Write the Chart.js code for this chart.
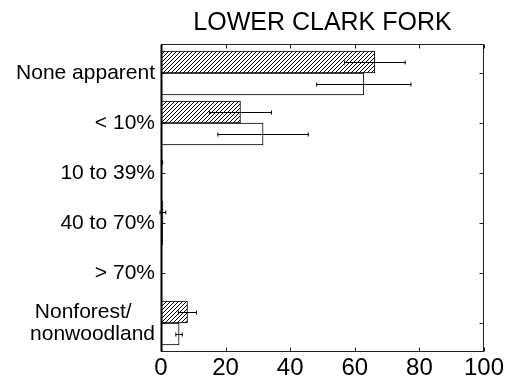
<!DOCTYPE html>
<html>
<head>
<meta charset="utf-8">
<script src="https://cdn.jsdelivr.net/npm/chart.js@4"></script>
<style>
  body { margin: 0; background: #fff; }
</style>
</head>
<body>
<canvas id="chart" width="508" height="381"></canvas>
<script>
const categories = ['None apparent', '< 10%', '10 to 39%', '40 to 70%', '> 70%', ['Nonforest/    ', 'nonwoodland']];
const hatchedValues = [66.2, 24.6, 0.3, 0.6, 0, 8.2];
const hatchedErrors = [9.4, 9.6, 0.2, 0.9, 0, 2.8];
const openValues = [62.8, 31.6, 0, 0.5, 0, 5.6];
const openErrors = [14.6, 14.0, 0, 0, 0, 1.0];
const xTicks = [0, 20, 40, 60, 80, 100];

// diagonal hatch fill
function hatch() {
    const c = document.createElement('canvas');
    c.width = 4; c.height = 4;
    const g = c.getContext('2d');
    g.fillStyle = '#fff';
    g.fillRect(0, 0, 4, 4);
    g.strokeStyle = '#000';
    g.lineWidth = 1;
    g.beginPath();
    g.moveTo(0, 4); g.lineTo(4, 0);
    g.moveTo(-1, 1); g.lineTo(1, -1);
    g.moveTo(3, 5); g.lineTo(5, 3);
    g.stroke();
    return g.createPattern(c, 'repeat');
}

const errorBars = {
    id: 'errorBars',
    afterDatasetsDraw(chart) {
        const ctx = chart.ctx;
        const xs = chart.scales.x;
        const errs = [hatchedErrors, openErrors];
        ctx.save();
        ctx.strokeStyle = '#000';
        ctx.lineWidth = 1;
        chart.data.datasets.forEach((ds, d) => {
            chart.getDatasetMeta(d).data.forEach((bar, i) => {
                const e = errs[d][i];
                if (!e) return;
                const v = ds.data[i].x;
                const y = Math.round(bar.y) + 0.5;
                const x1 = xs.getPixelForValue(v - e), x2 = xs.getPixelForValue(v + e);
                ctx.beginPath();
                ctx.moveTo(x1, y); ctx.lineTo(x2, y);
                ctx.moveTo(x1, y - 2); ctx.lineTo(x1, y + 2);
                ctx.moveTo(x2, y - 2); ctx.lineTo(x2, y + 2);
                ctx.stroke();
            });
        });
        ctx.restore();
    }
};

const frame = {
    id: 'frame',
    afterDraw(chart) {
        const ctx = chart.ctx;
        const a = chart.chartArea;
        const L = Math.round(a.left) + 0.5, R = Math.round(a.right) - 0.5;
        const T = Math.round(a.top) + 0.5, B = Math.round(a.bottom) - 0.5;
        ctx.save();
        ctx.strokeStyle = '#222';
        ctx.lineWidth = 1;
        ctx.strokeRect(L, T, R - L, B - T);
        ctx.beginPath();
        chart.scales.x.ticks.forEach(t => {
            const x = Math.round(chart.scales.x.getPixelForValue(t.value)) + 0.5;
            ctx.moveTo(x, T); ctx.lineTo(x, T + 4);
            ctx.moveTo(x, B); ctx.lineTo(x, B - 4);
        });
        chart.scales.y.ticks.forEach(t => {
            const y = Math.round(chart.scales.y.getPixelForValue(t.value)) + 0.5;
            ctx.moveTo(L, y); ctx.lineTo(L + 4, y);
            ctx.moveTo(R, y); ctx.lineTo(R - 4, y);
        });
        ctx.stroke();
        ctx.lineWidth = 2;
        ctx.strokeStyle = '#000';
        ctx.beginPath();
        ctx.moveTo(L, T); ctx.lineTo(L, B);
        ctx.stroke();
        ctx.restore();
    }
};

const ctx = document.getElementById('chart').getContext('2d');

new Chart(ctx, {
    type: 'bar',
    data: {
        datasets: [{
            data: hatchedValues.map((v, i) => ({ x: v, y: i })),
            backgroundColor: hatch(),
            borderColor: '#000',
            borderWidth: 1
        }, {
            data: openValues.map((v, i) => ({ x: v, y: i })),
            backgroundColor: '#fff',
            borderColor: '#000',
            borderWidth: 1
        }]
    },
    options: {
        responsive: false,
        animation: false,
        indexAxis: 'y',
        layout: { padding: { left: 0, right: 24, top: 0, bottom: 0 } },
        datasets: {
            bar: { barThickness: 22 }
        },
        scales: {
            x: {
                type: 'linear',
                min: 0,
                max: 100,
                afterBuildTicks: s => { s.ticks = xTicks.map(v => ({ value: v })); },
                grid: { display: false, drawTicks: false },
                border: { display: false },
                ticks: {
                    color: '#000',
                    padding: 2,
                    font: { family: 'Liberation Sans', size: 24 }
                },
                afterFit: s => { s.height = 29; }
            },
            y: {
                type: 'linear',
                reverse: true,
                offset: false,
                min: -0.58,
                max: 5.58,
                afterBuildTicks: s => { s.ticks = categories.map((c, i) => ({ value: i })); },
                grid: { display: false, drawTicks: false },
                border: { display: false },
                ticks: {
                    color: '#000',
                    padding: 6,
                    font: { family: 'Liberation Sans', size: 21, lineHeight: 1.05 },
                    callback: v => categories[v]
                },
                afterFit: s => { s.width = 161; }
            }
        },
        plugins: {
            legend: { display: false },
            tooltip: { enabled: false },
            title: {
                display: true,
                fullSize: false,
                text: 'LOWER CLARK FORK',
                color: '#000',
                font: { family: 'Liberation Sans', size: 25, weight: 'normal' },
                padding: { top: 8, bottom: 6 }
            }
        }
    },
    plugins: [errorBars, frame]
});
</script>
</body>
</html>
